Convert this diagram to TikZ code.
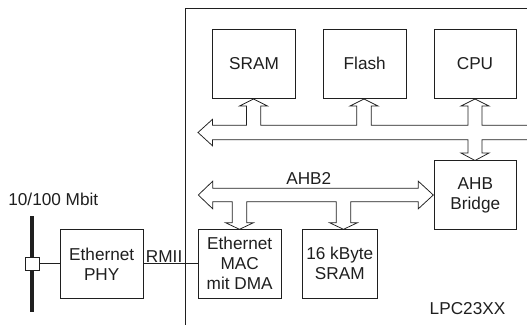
\documentclass[tikz,border=0pt]{standalone}
\usepackage{fontspec}
\setmainfont{Liberation Sans}
\definecolor{ink}{gray}{0.12}

\begin{document}
\begin{tikzpicture}[x=1pt,y=-1pt,line width=0.75pt,
  txt/.style={font=\fontsize{17.2}{20}\selectfont,text=ink},
  blk/.style={txt,draw=ink,fill=white,inner sep=0pt,align=center,minimum height=69},
  lbl/.style={txt,inner sep=0pt},
  bus/.style={draw=ink,fill=white,line join=miter}]
\useasboundingbox (0,0) rectangle (527,324);
\clip (0,0) rectangle (527,324);

% chip outline (runs past the right and bottom edges)
\node[draw=ink,inner sep=0pt,anchor=north west,minimum width=400,minimum height=360]
  (chip) at (184.5,8) {};

% main system bus with branches to SRAM, Flash, CPU and the AHB bridge
\coordinate (b1) at (198,132.5);
\draw[bus] (b1) -- (212.5,119.3) -- (212.5,125.3)
  -- (246.5,125.3) -- (246.5,106) -- (239.5,106) -- (253.5,99) -- (267.5,106) -- (260.8,106) -- (260.8,125.3)
  -- (356.8,125.3) -- (356.8,106) -- (350,106) -- (364,99) -- (378,106) -- (371.2,106) -- (371.2,125.3)
  -- (468,125.3) -- (468,106) -- (461,106) -- (475,99) -- (489,106) -- (482,106) -- (482,125.3)
  -- (545,125.3) -- (545,139.8)
  -- (482,139.8) -- (482,153) -- (489,153) -- (475,160.5) -- (461,153) -- (468,153) -- (468,139.8)
  -- (212.5,139.8) -- (212.5,145.8) -- cycle;

% AHB2 bus with branches to the Ethernet MAC and the 16 kByte SRAM
\coordinate (b2) at (198.3,195);
\draw[bus] (b2) -- (212.7,181.2) -- (212.7,188.3) -- (418.3,188.3) -- (418.3,181.2)
  -- (433.3,195) -- (418.3,208.8) -- (418.3,201.7)
  -- (350.8,201.7) -- (350.8,222.7) -- (357.5,222.7) -- (343.5,229.3) -- (329.5,222.7) -- (336.2,222.7) -- (336.2,201.7)
  -- (246.7,201.7) -- (246.7,222.7) -- (253.5,222.7) -- (239.5,229.3) -- (225.5,222.7) -- (232.2,222.7) -- (232.2,201.7)
  -- (212.7,201.7) -- (212.7,208.8) -- cycle;

% blocks
\node[blk,minimum width=83.4] (sram)   at (254,63.7)    {SRAM};
\node[blk,minimum width=82.7] (flash)  at (364.7,63.7)  {Flash};
\node[blk,minimum width=82]   (cpu)    at (475,63.7)    {CPU};
\node[blk,minimum width=82.7,minimum height=68.6] (bridge) at (475.3,195) {AHB\\Bridge};
\node[blk,minimum width=82.7] (mac)    at (239.7,263.8) {Ethernet\\MAC\\mit DMA};
\node[blk,minimum width=75]   (sramb)  at (339.8,263.8) {16 kByte\\SRAM};
\node[blk,minimum width=83.3] (phy)    at (101.7,263.8) {Ethernet\\PHY};

\node[lbl] (ahb2) at (308.8,178.5) {AHB2};
\node[lbl] (lpc) at (467.5,308.7) {LPC23XX};

% Ethernet cable and tap
\node[fill=ink,inner sep=0pt,minimum width=4,minimum height=96.3] (cable) at (32.3,264.2) {};
\node[lbl] (rate) at (53.3,199.3) {10/100 Mbit};
\node[draw=ink,fill=white,inner sep=0pt,minimum width=14.3,minimum height=13.4] (tap) at (32.2,263.8) {};
\draw[ink] (tap) -- (phy);
\draw[ink] (phy) -- node[lbl,pos=0.376,above=0.6pt] (rmii) {RMII} (mac);
\end{tikzpicture}
\end{document}
